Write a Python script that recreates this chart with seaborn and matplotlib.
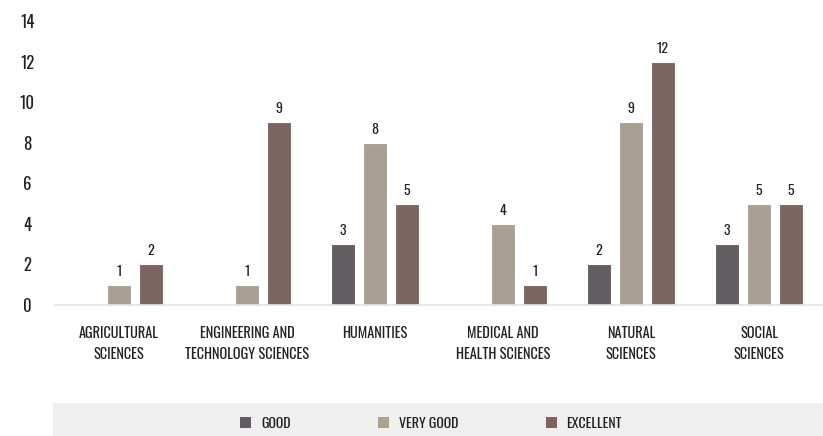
import matplotlib
matplotlib.use("Agg")
import matplotlib.pyplot as plt
import matplotlib.patches as mpatches
import seaborn as sns
import pandas as pd

categories = ["AGRICULTURAL\nSCIENCES", "ENGINEERING AND\nTECHNOLOGY SCIENCES", "HUMANITIES",
              "MEDICAL AND\nHEALTH SCIENCES", "NATURAL\nSCIENCES", "SOCIAL\nSCIENCES"]
series = ["GOOD", "VERY GOOD", "EXCELLENT"]
good = [0, 0, 3, 0, 2, 3]
very_good = [1, 1, 8, 4, 9, 5]
excellent = [2, 9, 5, 1, 12, 5]
yticks = [0, 2, 4, 6, 8, 10, 12, 14]
colors = ["#625C61", "#ADA190", "#7F625E"]

sns.set_theme(style="white")
plt.rcParams['font.family'] = ['Oswald', 'PT Sans Narrow', 'DejaVu Sans']
plt.rcParams['font.weight'] = 300
plt.rcParams['text.color'] = '#222222'

rows = []
for s, vals in zip(series, [good, very_good, excellent]):
    for c, v in zip(categories, vals):
        rows.append({"category": c, "rating": s, "value": v})
df = pd.DataFrame(rows)

fig = plt.figure(figsize=(8.23, 4.36), dpi=100)
ax = fig.add_axes([55 / 823, 1 - 305 / 436, 1 - 55 / 823, (305 - 21) / 436])

sns.barplot(data=df, x="category", y="value", hue="rating", order=categories,
            hue_order=series, palette=colors, width=0.75, gap=0.27,
            edgecolor="white", linewidth=0.8, ax=ax, legend=False)

for cont in ax.containers:
    labels = [f"{int(b.get_height())}" if b.get_height() > 0 else "" for b in cont]
    ax.bar_label(cont, labels=labels, padding=5, fontsize=10, color="#222222")

ax.set_ylim(0, 14)
ax.set_yticks(yticks)
ax.set_yticklabels([str(t) for t in yticks], fontsize=12, ha="center", color="#222222")
ax.tick_params(axis="y", length=0, pad=20)
ax.tick_params(axis="x", length=0, pad=15, labelsize=10.3, labelcolor="#222222")
for lbl in ax.get_xticklabels():
    lbl.set_linespacing(1.5)
ax.set_xlabel("")
ax.set_ylabel("")
for s in ["top", "right", "left"]:
    ax.spines[s].set_visible(False)
ax.spines["bottom"].set_color("#E3E3E3")
ax.spines["bottom"].set_linewidth(1.2)
ax.set_xlim(-0.5, 5.5)

# legend band
band = mpatches.Rectangle((53 / 823, 0), 1 - 53 / 823, 33 / 436, transform=fig.transFigure,
                          facecolor="#EFEFEF", edgecolor="none", zorder=0)
fig.patches.append(band)

handles = [mpatches.Patch(facecolor=c, edgecolor="none", label=s) for c, s in zip(colors, series)]
fig.legend(handles=handles, loc="center", bbox_to_anchor=(431 / 823, 1 - 423 / 436), ncol=3,
           frameon=False, fontsize=10, handlelength=0.8, handleheight=0.8,
           handletextpad=0.7, columnspacing=6.3)

fig.savefig("out.png", dpi=100)
